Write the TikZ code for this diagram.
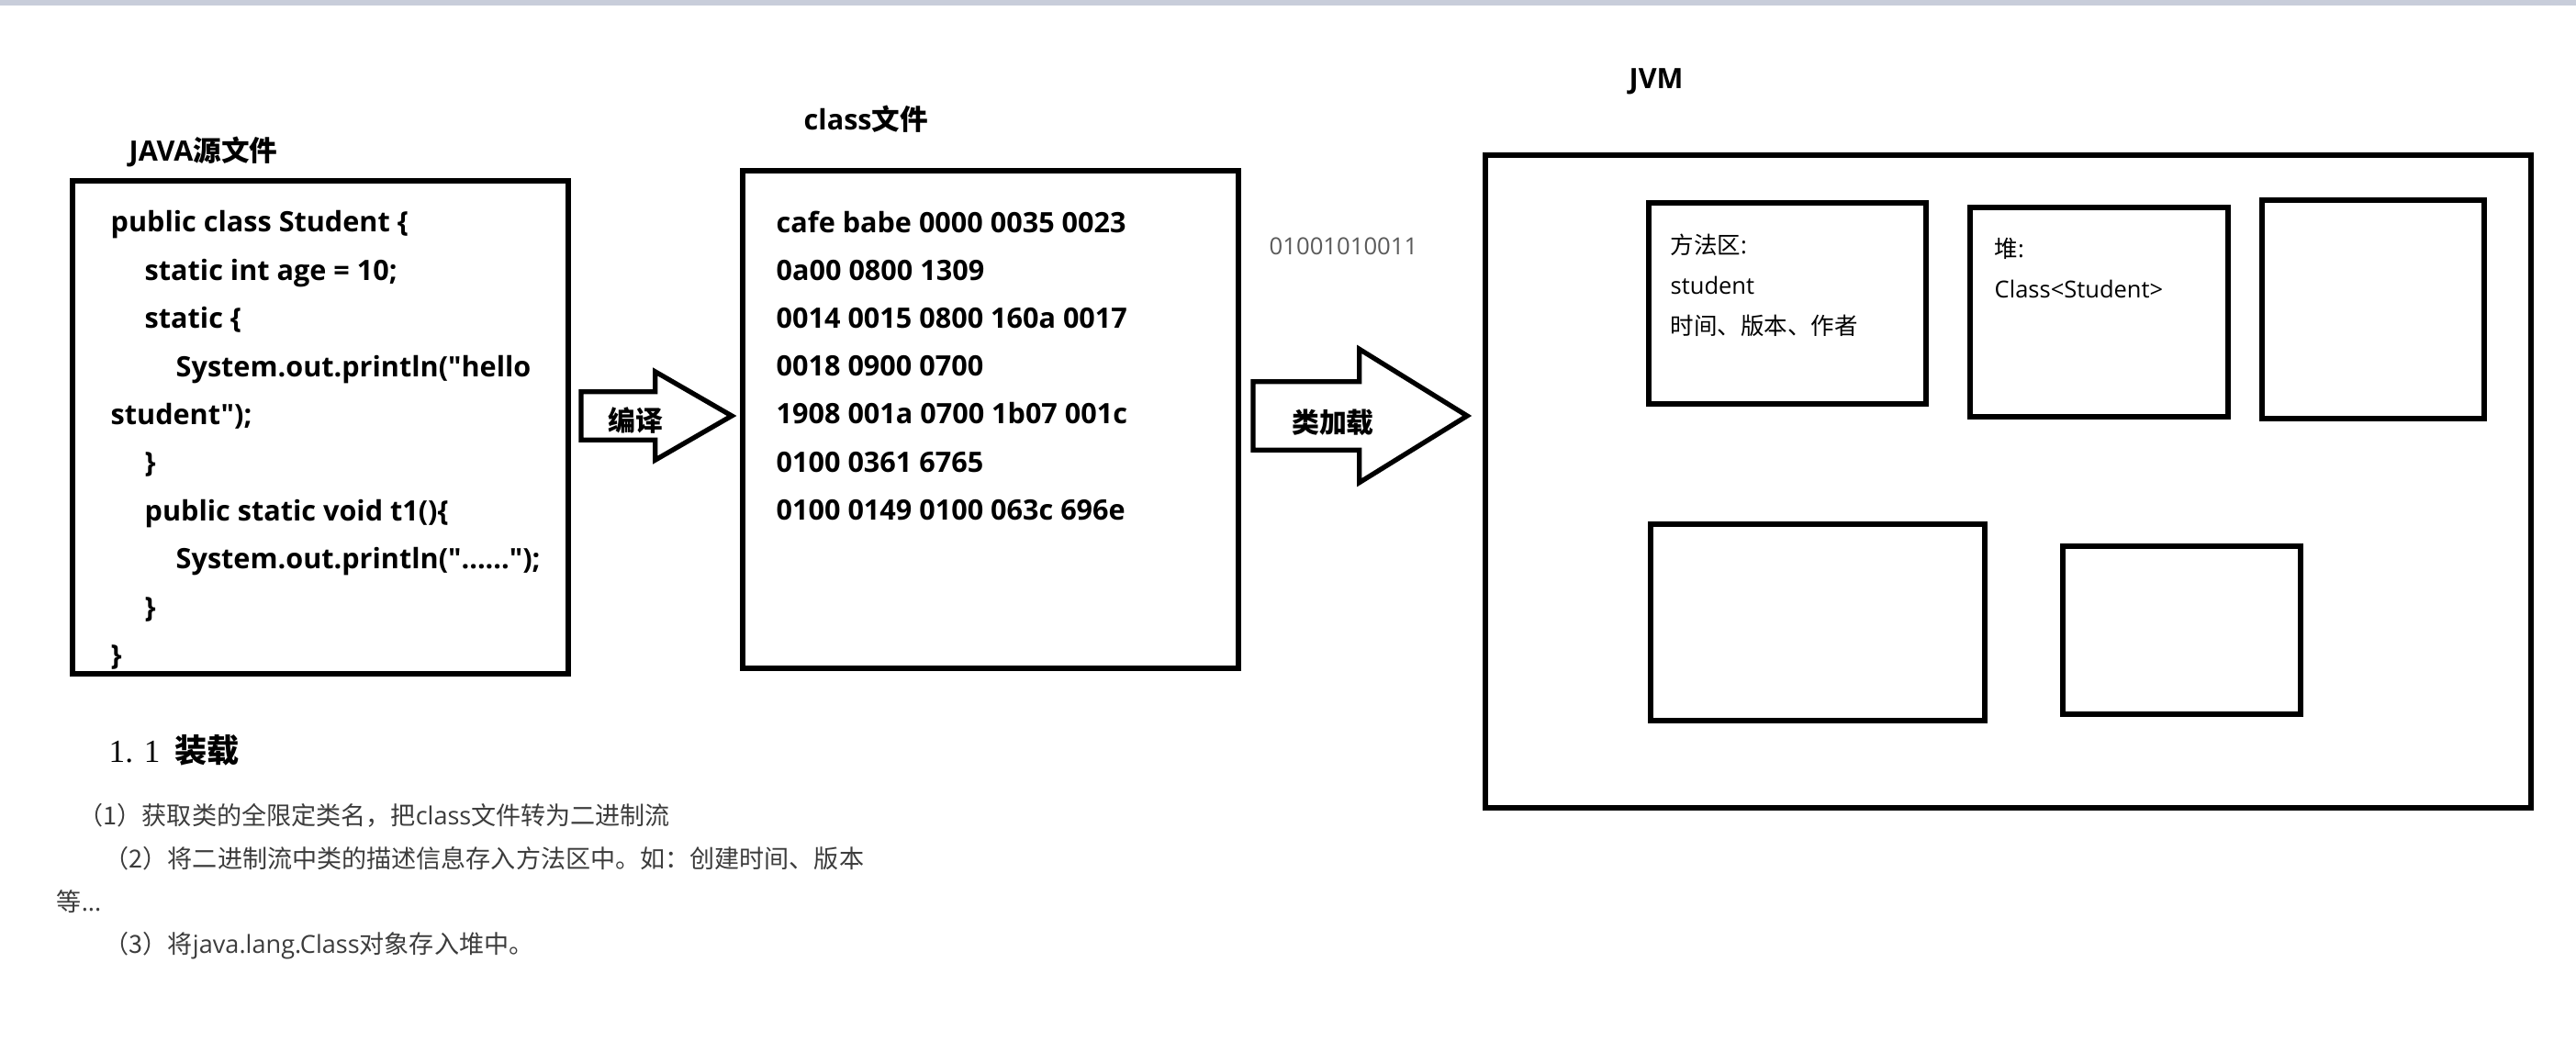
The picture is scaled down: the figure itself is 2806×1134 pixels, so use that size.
\documentclass[tikz,border=0pt]{standalone}
\usepackage{fontspec}
\setmainfont{Open Sans}[Ligatures=TeXOff]
\newfontfamily\cjk{Noto Sans CJK SC}
\newfontfamily\serifnum{Liberation Serif}
\usetikzlibrary{shapes.arrows,positioning}

\definecolor{bandgrey}{RGB}{200,205,218}
\definecolor{notegrey}{RGB}{60,60,60}
\definecolor{bitgrey}{RGB}{90,90,90}

\tikzset{
    frame/.style={draw, line width=1.7pt, inner sep=0pt, outer sep=0pt, anchor=north west},
    title/.style={inner sep=0pt, anchor=west, font=\fontsize{8.7pt}{10pt}\selectfont\bfseries},
    code/.style={inner sep=0pt, anchor=north west, align=left, font=\fontsize{8.7pt}{14.9pt}\selectfont\bfseries},
    boxtext/.style={inner sep=0pt, anchor=north west, align=left, font=\fontsize{7.25pt}{12.5pt}\selectfont},
    bigarrow/.style={single arrow, draw, line width=1.5pt, inner sep=0pt, outer sep=0pt, anchor=tail, text depth=0pt, single arrow head indent=0pt},
    arrowlabel/.style={inner sep=0pt, font=\fontsize{8.5pt}{10pt}\selectfont\cjk\bfseries},
    notes/.style={inner sep=0pt, anchor=north west, align=left, text=notegrey, font=\fontsize{7.7pt}{13.28pt}\selectfont}
}

\begin{document}
\begin{tikzpicture}[x=0.01cm, y=-0.01cm]
    \useasboundingbox (0,0) rectangle (2806,1134);
    \fill[bandgrey] (0,0) rectangle (2806,6);

    % Java source file
    \node (javatitle) [title] at (140,165) {JAVA{\cjk 源文件}};
    \node (java) [frame, minimum width=5.40cm, minimum height=5.37cm] at (79,197) {};
    \node (javacode) [code] at (120,229) {public class Student \{\\
        \hspace*{0.37cm}static int age = 10;\\
        \hspace*{0.37cm}static \{\\
        \hspace*{0.71cm}System.out.println("hello\\
        student");\\
        \hspace*{0.37cm}\}\\
        \hspace*{0.37cm}public static void t1()\{\\
        \hspace*{0.71cm}System.out.println("......");\\
        \hspace*{0.37cm}\}\\
        \}};

    % Compile arrow
    \node (compile) [bigarrow, text height=0.47cm, minimum height=1.64cm, single arrow head extend=0.22cm, single arrow tip angle=60] at (633,453) {};
    \node (compilelbl) [arrowlabel] at (692,458) {编译};

    % Class file
    \node (clstitle) [title] at (875,130) {class{\cjk 文件}};
    \node (cls) [frame, minimum width=5.40cm, minimum height=5.42cm] at (809,186) {};
    \node (hexcode) [code, font=\fontsize{8.7pt}{14.85pt}\selectfont\bfseries] at (845,229) {cafe babe 0000 0035 0023\\
        0a00 0800 1309\\
        0014 0015 0800 160a 0017\\
        0018 0900 0700\\
        1908 001a 0700 1b07 001c\\
        0100 0361 6765\\
        0100 0149 0100 063c 696e};
    \node (bits) [inner sep=0pt, anchor=west, text=bitgrey, font=\fontsize{7.3pt}{9pt}\selectfont] at (1382,268) {01001010011};

    % Class loading arrow
    \node (load) [bigarrow, text height=0.69cm, minimum height=2.33cm, single arrow head extend=0.355cm, single arrow tip angle=63.5] at (1365,453) {};
    \node (loadlbl) [arrowlabel] at (1452,460) {类加载};

    % JVM
    \node (jvmtitle) [title] at (1774,89) {JVM};
    \node (jvm) [frame, minimum width=11.38cm, minimum height=7.11cm] at (1618,169) {};
    \node (method) [frame, minimum width=3.02cm, minimum height=2.19cm] at (1796,221) {};
    \node (methodtext) [boxtext] at (1819,254) {{\cjk 方法区}:\\student\\{\cjk 时间、版本、作者}};
    \node (heap) [frame, minimum width=2.81cm, minimum height=2.28cm] at (2146,226) {};
    \node (heaptext) [boxtext] at (2172,259) {{\cjk 堆}:\\Class<Student>};
    \node (area3) [frame, minimum width=2.42cm, minimum height=2.38cm] at (2464,218) {};
    \node (area4) [frame, minimum width=3.64cm, minimum height=2.14cm] at (1798,571) {};
    \node (area5) [frame, minimum width=2.59cm, minimum height=1.83cm] at (2247,595) {};

    % Loading steps
    \node (heading) [inner sep=0pt, anchor=west, font=\fontsize{10pt}{12pt}\selectfont] at (118,817) {{\serifnum 1. 1}\hspace{0.16cm}{\cjk\bfseries 装载}};
    \node (steps) [notes] at (61,875) {\hspace*{0.24cm}{\cjk （1）获取类的全限定类名，把}class{\cjk 文件转为二进制流}\\
        \hspace*{0.52cm}{\cjk （2）将二进制流中类的描述信息存入方法区中。如：创建时间、版本}\\
        {\cjk 等}...\\
        \hspace*{0.52cm}{\cjk （3）将}java.lang.Class{\cjk 对象存入堆中。}};
\end{tikzpicture}
\end{document}
